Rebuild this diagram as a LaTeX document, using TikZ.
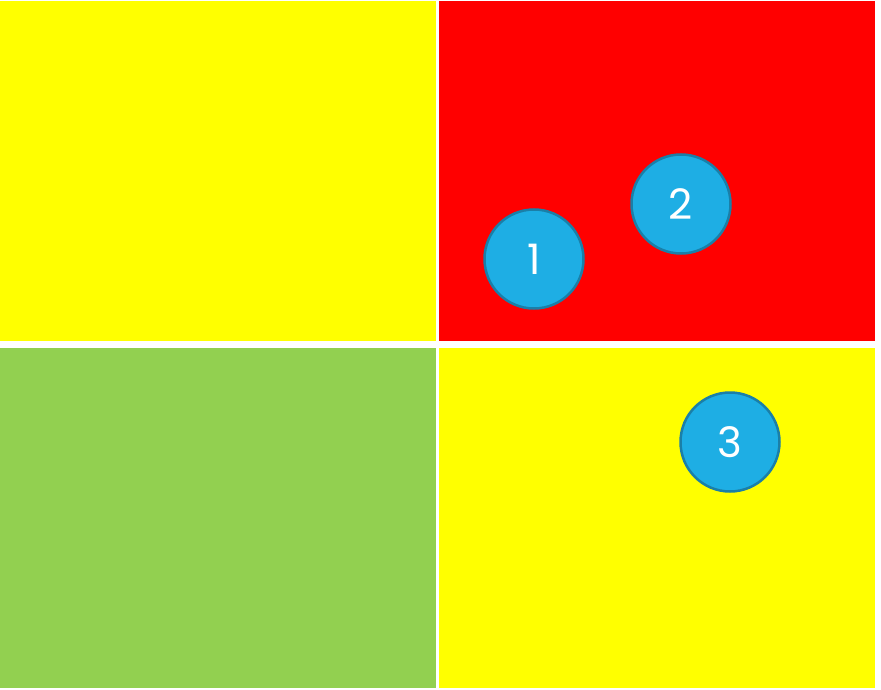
\documentclass[tikz,border=0pt]{standalone}
\usepackage{fontspec}
\setmainfont{Poppins}
\definecolor{myyellow}{HTML}{FFFF00}
\definecolor{myred}{HTML}{FF0000}
\definecolor{mygreen}{HTML}{92D050}
\definecolor{circfill}{HTML}{1EAEE4}
\definecolor{circline}{HTML}{1A7FA8}
\begin{document}
\begin{tikzpicture}[x=1pt,y=-1pt,
  badge/.style={circle,fill=circfill,draw=circline,line width=2.5pt,minimum size=99pt,inner sep=0pt,text=white,font=\fontsize{42}{44}\selectfont}]
\fill[white] (0,0) rectangle (881,690);
\useasboundingbox (0,0) rectangle (881,690);
\fill[myyellow] (0,1) rectangle (436,341);
\fill[myred] (439,1) rectangle (875,341);
\fill[mygreen] (0,348) rectangle (436,688);
\fill[myyellow] (439,348) rectangle (875,688);
\node[badge] (c1) at (534,259) {1};
\node[badge] (c2) at (681,204) {2};
\node[badge] (c3) at (730,442) {3};
\end{tikzpicture}
\end{document}
